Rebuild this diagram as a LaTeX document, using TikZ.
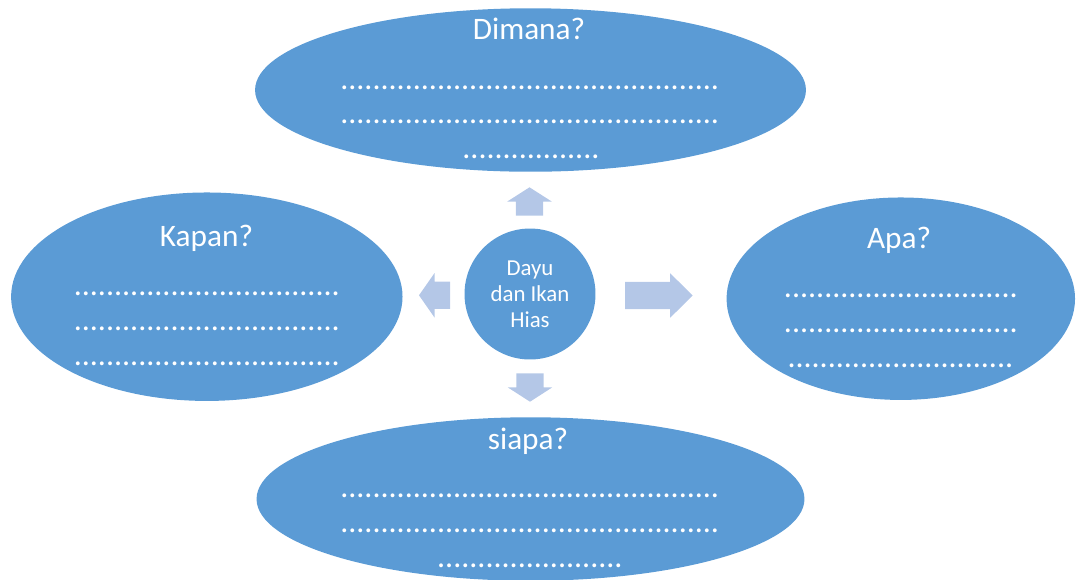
\documentclass[tikz,border=0pt]{standalone}
\usepackage{fontspec}
\setmainfont{Carlito}
\usepackage{tikz}
\usetikzlibrary{shapes.geometric}
\definecolor{biru}{HTML}{5B9BD5}
\definecolor{birumuda}{HTML}{B4C7E7}
\newcommand\titik[1]{\foreach\i in {1,...,#1}{.}}

\begin{document}
\begin{tikzpicture}[x=0.02cm,y=-0.02cm,
  elips/.style={ellipse,fill=biru,inner sep=0pt},
  judul/.style={text=white,anchor=base,inner sep=0pt,font=\fontsize{17.8}{21}\selectfont},
  isian/.style={text=white,anchor=base,inner sep=0pt,font=\fontsize{18.2}{21}\selectfont},
  panah/.style={fill=birumuda}]
\useasboundingbox (0,0) rectangle (1077,579);
% elips
\node[elips,minimum width=11.02cm,minimum height=3.27cm] (dimana) at (530.5,90) {};
\node[elips,minimum width=7.83cm,minimum height=4.17cm] (kapan) at (206.8,296.7) {};
\node[elips,minimum width=6.97cm,minimum height=4.05cm] (apa) at (900.8,298.7) {};
\node[elips,minimum width=10.96cm,minimum height=3.27cm] (siapa) at (530.5,499) {};
\node[circle,fill=biru,inner sep=0pt,minimum size=2.62cm,text=white,align=center,
  font=\fontsize{13}{14.7}\selectfont] (pusat) at (530,294) {Dayu\\dan Ikan\\Hias};
% panah
\foreach \x/\y/\a/\p/\h in {529.5/215.7/90/28.4/14.2, 530/373.3/-90/28.4/14.3,
  450/295.3/180/31/15.5, 625/295.5/0/67.7/22.5}
 \fill[panah,shift={(\x,\y)},rotate=\a] (0,-13.6) -- ({\p-\h},-13.6) -- ({\p-\h},-22.2)
   -- (\p,0) -- ({\p-\h},22.2) -- ({\p-\h},13.6) -- (0,13.6) -- cycle;
% judul
\node[judul] (tdimana) at (529,39.3) {Dimana?};
\node[judul] (tkapan) at (206.5,246.7) {Kapan?};
\node[judul] (tapa) at (899,248.3) {Apa?};
\node[judul] (tsiapa) at (528,449) {siapa?};
% titik-titik
\foreach \nm/\x/\y/\n in {d1/530/89.3/47, d2/530/123.7/47, d3/531/158.7/17,
  k1/207/295.3/33, k2/207/330.3/33, k3/207/365.3/33,
  a1/901/297/29, a2/901/332/29, a3/900.5/367/28,
  s1/530/497.7/47, s2/530/532.7/47, s3/530/567/23}
 \node[isian] (\nm) at (\x,\y) {\titik{\n}};
\end{tikzpicture}
\end{document}
